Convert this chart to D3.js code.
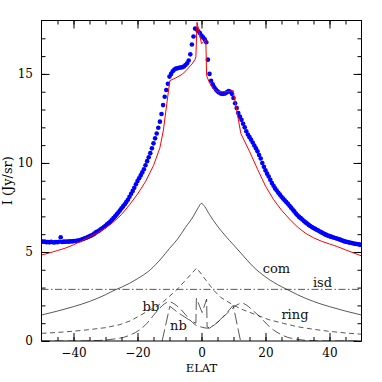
<!DOCTYPE html>
<html><head><meta charset="utf-8">
<script src="https://cdn.jsdelivr.net/npm/d3@7"></script>
<style>body{margin:0;background:#fff}svg{display:block}text{font-family:"DejaVu Serif",serif}</style>
</head><body><svg id="c" width="382" height="382"></svg>
<script>
// ---- data ----
const obsElat = [
-50,-49.5,-49,-48.5,-48,-47.5,-47,-46.5,-46,-45.5,-45,-44.5,-44,-43.5,-43,-42.5,-42,-41.5,-41,-40.5,
-40,-39.5,-39,-38.5,-38,-37.5,-37,-36.5,-36,-35.5,-35,-34.5,-34,-33.5,-33,-32.5,-32,-31.5,-31,-30.5,
-30,-29.5,-29,-28.5,-28,-27.5,-27,-26.5,-26,-25.5,-25,-24.5,-24,-23.5,-23,-22.5,-22,-21.5,-21,-20.5,
-20,-19.5,-19,-18.5,-18,-17.5,-17,-16.5,-16,-15.5,-15,-14.5,-14,-13.5,-13,-12.5,-12,-11.5,-11,-10.5,
-10,-9.5,-9,-8.5,-8,-7.5,-7,-6.5,-6,-5.5,-5,-4.5,-4,-3.5,-3,-2.5,-2,-1.5,-1,-0.5,
0,0.5,1,1.5,2,2.5,3,3.5,4,4.5,5,5.5,6,6.5,7,7.5,8,8.5,9,9.5,
10,10.5,11,11.5,12,12.5,13,13.5,14,14.5,15,15.5,16,16.5,17,17.5,18,18.5,19,19.5,
20,20.5,21,21.5,22,22.5,23,23.5,24,24.5,25,25.5,26,26.5,27,27.5,28,28.5,29,29.5,
30,30.5,31,31.5,32,32.5,33,33.5,34,34.5,35,35.5,36,36.5,37,37.5,38,38.5,39,39.5,
40,40.5,41,41.5,42,42.5,43,43.5,44,44.5,45,45.5,46,46.5,47,47.5,48,48.5,49,49.5,50];
const obsI = [
5.6,5.57,5.58,5.55,5.56,5.54,5.57,5.55,5.53,5.56,5.55,5.57,5.83,5.56,5.58,5.57,5.59,5.58,5.6,5.59,
5.61,5.62,5.63,5.64,5.66,5.7,5.73,5.77,5.8,5.84,5.88,5.92,5.97,6.03,6.1,6.15,6.2,6.27,6.33,6.4,
6.47,6.55,6.62,6.71,6.8,6.9,7.0,7.11,7.22,7.33,7.45,7.56,7.68,7.8,7.93,8.1,8.27,8.43,8.6,8.8,
8.98,9.14,9.3,9.47,9.65,9.87,10.1,10.32,10.55,10.82,11.1,11.38,11.65,11.98,12.32,12.75,13.25,13.72,14.1,14.45,
14.85,15.0,15.15,15.25,15.3,15.32,15.35,15.36,15.38,15.42,15.5,15.6,15.75,16.1,16.65,17.1,17.55,17.5,17.4,17.3,
17.15,17.05,16.95,16.78,15.8,15.0,14.62,14.42,14.25,14.12,14.02,13.96,13.9,13.88,13.89,13.92,13.98,14.04,14.0,13.88,
13.65,13.35,13.08,12.8,12.6,12.42,12.2,12.0,11.78,11.6,11.45,11.3,11.15,10.98,10.82,10.65,10.45,10.25,10.0,9.78,
9.58,9.4,9.24,9.05,8.87,8.72,8.57,8.45,8.33,8.22,8.1,8.0,7.9,7.8,7.71,7.6,7.49,7.38,7.28,7.16,
7.06,6.97,6.9,6.82,6.74,6.66,6.6,6.52,6.46,6.4,6.35,6.3,6.25,6.2,6.15,6.1,6.05,6.0,5.96,5.92,
5.89,5.86,5.83,5.8,5.77,5.74,5.71,5.68,5.64,5.61,5.58,5.56,5.54,5.52,5.5,5.48,5.46,5.45,5.43,5.41,5.39];

const modelElat = [-50,-47.5,-45,-42.5,-40,-37.5,-35,-32.5,-30,-27.5,-25,-22.5,-20,-17.5,-15,-13,-11.9,-9.9,-8,-6,-4.5,-3,-2,-1.75,-1.4,0,1.35,1.6,2.5,3.5,5,8,9.9,11,12.3,15,17.5,20,22.5,25,27.5,30,32.5,35,37.5,40,42.5,45,47.5,50];
const modelI    = [4.83,4.95,5.08,5.22,5.4,5.62,5.85,6.08,6.35,6.68,7.1,7.65,8.25,8.95,9.85,10.85,11.85,14.62,14.78,14.98,15.25,15.55,15.82,15.97,17.9,16.7,16.92,14.9,14.5,14.2,14.0,14.0,14.06,12.96,11.65,10.65,9.65,8.7,7.95,7.35,6.85,6.4,6.05,5.8,5.6,5.45,5.3,5.12,4.95,4.78];

const comElat = [-50,-45,-40,-35,-30,-27,-25,-22.5,-20,-16,-12.5,-10,-7.5,-5,-2.5,-1,0,1,2.5,5,7.5,10,12.5,16,20,22.5,25,27,30,35,40,45,50];
const comI    = [1.46,1.68,1.93,2.22,2.6,2.87,3.02,3.24,3.5,4.0,4.65,5.2,5.72,6.38,7.02,7.5,7.73,7.55,7.1,6.45,5.9,5.4,4.9,4.2,3.6,3.3,3.05,2.87,2.6,2.22,1.93,1.68,1.46];

const isdElat = [-50,50];
const isdI    = [2.9,2.9];

const ringElat = [-50,-45,-40,-35,-30,-25.5,-22,-17.1,-14,-11.9,-7.75,-1.5,3.7,6,9.9,13,17.25,21,25.6,30,34.9,40,45,50];
const ringI    = [0.43,0.48,0.55,0.64,0.75,0.92,1.15,1.65,1.95,2.21,2.87,4.1,2.87,2.45,2.02,1.75,1.46,1.2,0.99,0.8,0.66,0.54,0.45,0.38];

const bbElat = [-50,-40,-35,-32,-29.6,-27,-24.4,-22,-19.2,-17,-15.1,-13,-11.5,-10,-8.5,-6.7,-5,-3.6,-2,0,2,4,6.8,9,11,12.6,14.2,16,18.3,20.4,22.5,24.5,27,29.7,33,38,50];
const bbI    = [0,0,0.01,0.03,0.06,0.12,0.2,0.36,0.64,1.0,1.42,1.85,2.1,2.2,2.08,1.82,1.48,1.18,0.92,0.78,0.72,0.9,1.35,1.72,2.02,2.12,2.0,1.72,1.35,0.95,0.62,0.4,0.2,0.1,0.03,0,0];

const nbElat = [-12.3,-9.9,-7,-4,-1.75,-1.6,0.2,1.6,1.75,2.5,5,7.5,9.9,12.2];
const nbI    = [0,1.95,1.55,1.2,1.0,2.4,1.6,2.35,0.8,0.72,1.05,1.5,2.0,0];

const xTickLabels = [-40,-20,0,20,40];
const yTickLabels = [0,5,10,15];
const componentNames = ["com","isd","ring","bb","nb"];
const labelElat = [23.4,37.8,29.2,-15.8,-7.2];
const labelI    = [3.82,3.06,1.21,1.66,0.62];

// ---- chart ----
const svg = d3.select("#c");
const M = {l:41.5, t:20.5, r:20.5, b:41};
const W = 382 - M.l - M.r, H = 382 - M.t - M.b;
const x = d3.scaleLinear().domain([-50,50]).range([0,W]);
const y = d3.scaleLinear().domain([0,18]).range([H,0]);
const g = svg.append("g").attr("transform",`translate(${M.l},${M.t})`);

g.append("defs").append("clipPath").attr("id","clip").append("rect").attr("width",W).attr("height",H);
const plot = g.append("g").attr("clip-path","url(#clip)");

const line = d3.line().x(d=>x(d[0])).y(d=>y(d[1]));
const zip = (a,b)=>a.map((v,i)=>[v,b[i]]);

const comps = [
  {e:comElat,v:comI,dash:null,curve:d3.curveMonotoneX},
  {e:isdElat,v:isdI,dash:"7,2.5,1.5,2.5",curve:d3.curveLinear},
  {e:ringElat,v:ringI,dash:"5,3.5",curve:d3.curveLinear},
  {e:bbElat,v:bbI,dash:"9,4",curve:d3.curveMonotoneX},
  {e:nbElat,v:nbI,dash:"12,4",curve:d3.curveLinear}
];
comps.forEach(c=>{
  plot.append("path").datum(zip(c.e,c.v))
    .attr("d",line.curve(c.curve))
    .attr("fill","none").attr("stroke","#222").attr("stroke-width",0.75)
    .attr("stroke-dasharray",c.dash);
});

plot.selectAll("circle.obs").data(zip(obsElat,obsI)).join("circle")
  .attr("class","obs").attr("cx",d=>x(d[0])).attr("cy",d=>y(d[1])).attr("r",2.3)
  .attr("fill","#0000ff");

plot.append("path").datum(zip(modelElat,modelI))
  .attr("d",line.curve(d3.curveLinear))
  .attr("fill","none").attr("stroke","#ff0000").attr("stroke-width",1);

// labels
g.selectAll("text.lab").data(componentNames).join("text").attr("class","lab")
  .attr("x",(d,i)=>x(labelElat[i])).attr("y",(d,i)=>y(labelI[i]))
  .attr("text-anchor","middle").attr("font-size",13).attr("fill","#111").text(d=>d);

// axes
const minorX = d3.range(-45,50,5), minorY = d3.range(1,18,1);
function styleAxis(sel){sel.select(".domain").remove();sel.selectAll("line").attr("stroke","#000");sel.selectAll("text").attr("font-size",12).attr("font-family","DejaVu Serif").attr("fill","#000");}
g.append("g").attr("transform",`translate(0,${H})`).call(d3.axisBottom(x).tickValues(minorX).tickSize(-4).tickFormat("")).call(styleAxis);
g.append("g").attr("transform",`translate(0,${H})`).call(d3.axisBottom(x).tickValues(xTickLabels).tickSize(-8).tickPadding(7)).call(styleAxis);
g.append("g").call(d3.axisTop(x).tickValues(minorX).tickSize(-4).tickFormat("")).call(styleAxis);
g.append("g").call(d3.axisTop(x).tickValues(xTickLabels).tickSize(-8).tickFormat("")).call(styleAxis);
g.append("g").call(d3.axisLeft(y).tickValues(minorY).tickSize(-4).tickFormat("")).call(styleAxis);
g.append("g").call(d3.axisLeft(y).tickValues(yTickLabels).tickSize(-8).tickPadding(8.5)).call(styleAxis);
g.append("g").attr("transform",`translate(${W},0)`).call(d3.axisRight(y).tickValues(minorY).tickSize(-4).tickFormat("")).call(styleAxis);
g.append("g").attr("transform",`translate(${W},0)`).call(d3.axisRight(y).tickValues(yTickLabels).tickSize(-8).tickFormat("")).call(styleAxis);

g.append("rect").attr("width",W).attr("height",H).attr("fill","none").attr("stroke","#000").attr("stroke-width",1);

svg.append("text").attr("x",M.l+W/2).attr("y",372).attr("text-anchor","middle").attr("font-size",11.5).text("ELAT");
svg.append("text").attr("transform",`translate(12,${M.t+H/2}) rotate(-90)`).attr("text-anchor","middle").attr("font-size",13).text("I (Jy/sr)");
</script></body></html>
